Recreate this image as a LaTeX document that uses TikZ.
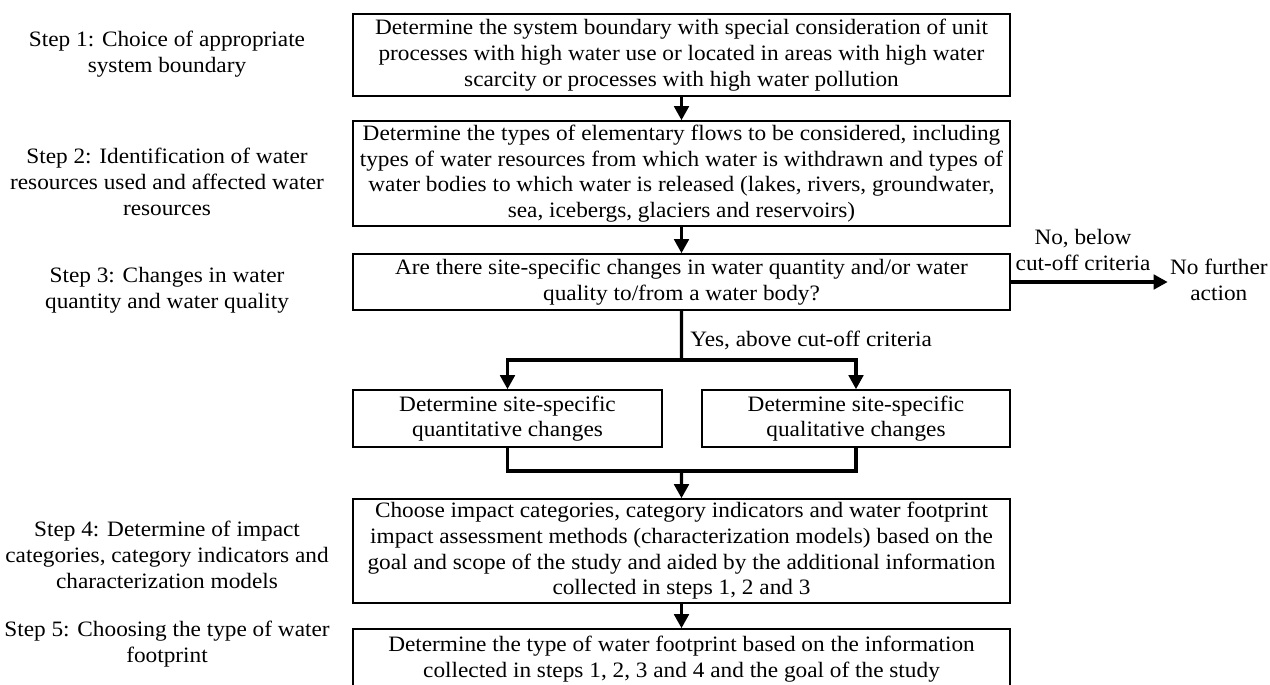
\documentclass[tikz,border=0pt]{standalone}
\usepackage{fontspec}
\setmainfont{Liberation Serif}[FakeStretch=1.06]
\usepackage{tikz}
\usetikzlibrary{arrows.meta}
\usetikzlibrary{positioning}
\tikzset{%
  every node/.style={
    font=\fontsize{12.5}{14.6}\selectfont,
    align=center
  },
  stepbox/.style={
    draw,
    rectangle,
    line width=0.9pt,
    inner sep=0pt
  },
  steplabel/.style={
    inner sep=0pt
  },
  flow/.style={
    line width=1.8pt,
    -{Triangle[length=2.8mm,width=2.9mm]}
  },
  flowline/.style={
    line width=1.8pt
  },
}

\begin{document}
\begin{tikzpicture}
  \useasboundingbox (0,0) rectangle (25.4,-13.68);
  \clip (0,0) rectangle (25.4,-13.68);

  \node (s1) [xshift=3.34cm,yshift=-1.08cm,steplabel]
  {Step 1: Choice of appropriate\\system boundary};
  \node (s2) [xshift=3.34cm,yshift=-3.64cm,steplabel]
  {Step 2: Identification of water\\resources used and affected water\\resources};
  \node (s3) [xshift=3.34cm,yshift=-5.80cm,steplabel]
  {Step 3: Changes in water\\quantity and water quality};
  \node (s4) [xshift=3.34cm,yshift=-11.10cm,steplabel]
  {Step 4: Determine of impact\\categories, category indicators and\\characterization models};
  \node (s5) [xshift=3.34cm,yshift=-12.88cm,steplabel]
  {Step 5: Choosing the type of water\\footprint};

  \node (b1) [xshift=13.63cm,yshift=-1.10cm,stepbox,minimum width=13.14cm,minimum height=1.64cm]
  {Determine the system boundary with special consideration of unit\\processes with high water use or located in areas with high water\\scarcity or processes with high water pollution};
  \node (b2) [xshift=13.63cm,yshift=-3.47cm,stepbox,minimum width=13.14cm,minimum height=2.10cm]
  {Determine the types of elementary flows to be considered, including\\types of water resources from which water is withdrawn and types of\\water bodies to which water is released (lakes, rivers, groundwater,\\sea, icebergs, glaciers and reservoirs)};
  \node (b3) [xshift=13.63cm,yshift=-5.64cm,stepbox,minimum width=13.14cm,minimum height=1.12cm]
  {Are there site-specific changes in water quantity and/or water\\quality to/from a water body?};
  \node (q1) [xshift=10.15cm,yshift=-8.37cm,stepbox,minimum width=6.18cm,minimum height=1.14cm]
  {Determine site-specific\\quantitative changes};
  \node (q2) [xshift=17.12cm,yshift=-8.37cm,stepbox,minimum width=6.16cm,minimum height=1.14cm]
  {Determine site-specific\\qualitative changes};
  \node (b5) [xshift=13.63cm,yshift=-11.02cm,stepbox,minimum width=13.14cm,minimum height=2.08cm]
  {Choose impact categories, category indicators and water footprint\\impact assessment methods (characterization models) based on the\\goal and scope of the study and aided by the additional information\\collected in steps 1, 2 and 3};
  \node (b6) [xshift=13.63cm,yshift=-13.18cm,stepbox,minimum width=13.14cm,minimum height=1.20cm]
  {Determine the type of water footprint based on the information\\collected in steps 1, 2, 3 and 4 and the goal of the study};

  \node (nf) [xshift=25.36cm,yshift=-5.60cm,steplabel,anchor=east]
  {No further\\action};
  \node (no) [xshift=21.66cm,yshift=-5.00cm,steplabel]
  {No, below\\cut-off criteria};
  \node (yes) [xshift=13.80cm,yshift=-6.80cm,steplabel,anchor=west]
  {Yes, above cut-off criteria};

  \coordinate (split) at (13.63,-7.20);
  \coordinate (join) at (13.63,-9.42);

  \draw [flow] (b1)--(b2);
  \draw [flow] (b2)--(b3);
  \draw [flow] (b3.east)--([xshift=-0.04cm]nf.west|-b3.east);
  \draw [flowline] (b3)--(split);
  \draw [flow] (split)-|(q1);
  \draw [flow] (split)-|(q2);
  \draw [flowline] (q1)|-(join);
  \draw [flowline] (q2)|-(join);
  \draw [flow] (join)--(b5);
  \draw [flow] (b5)--(b6);
\end{tikzpicture}
\end{document}
